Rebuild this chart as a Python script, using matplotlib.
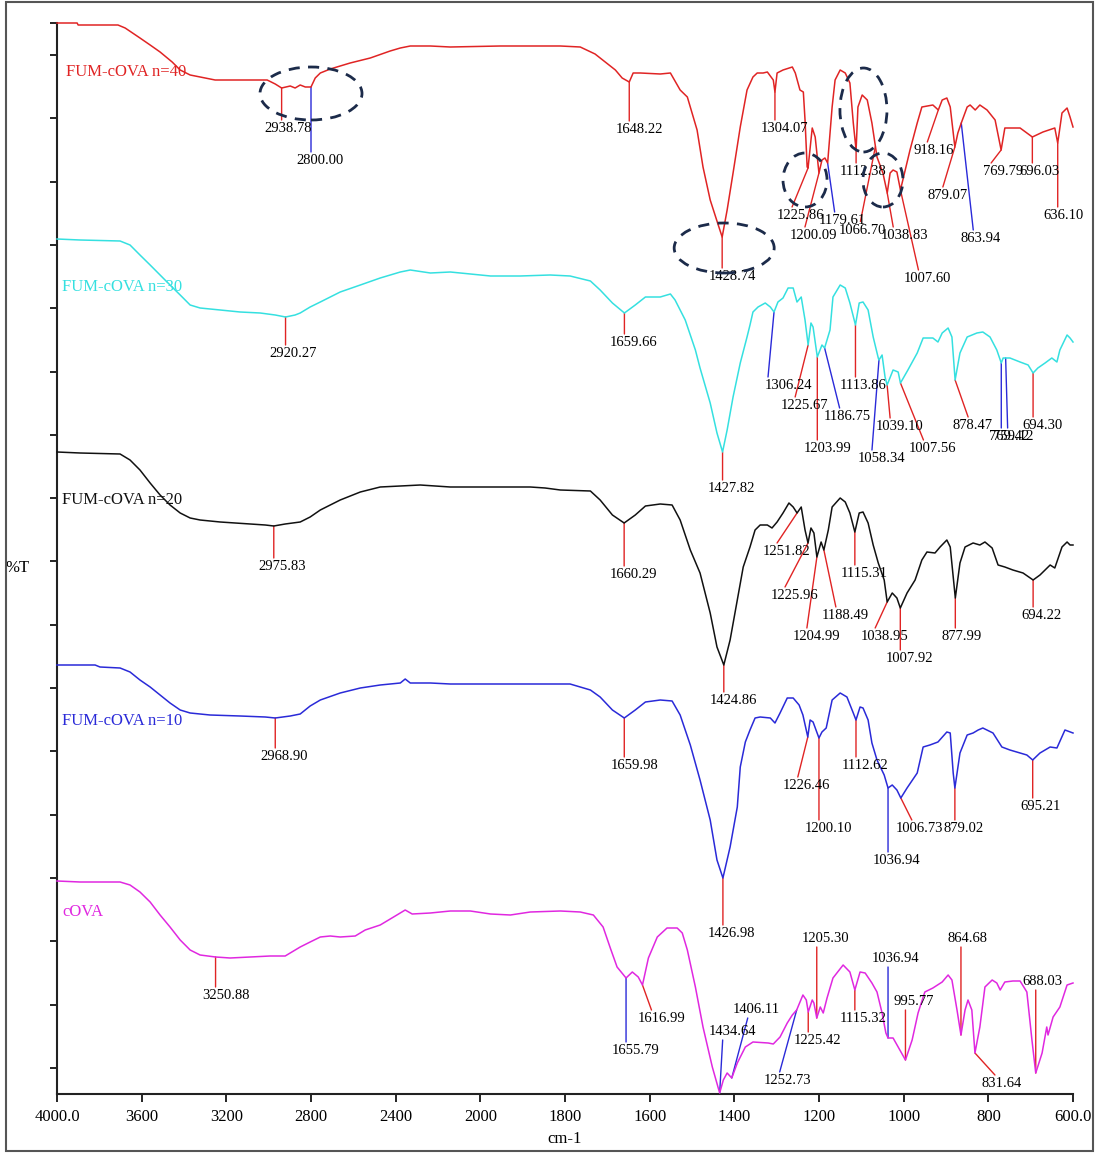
import numpy as np
import matplotlib
matplotlib.use('Agg')
import matplotlib.pyplot as plt
from matplotlib.patches import Ellipse, Rectangle
from matplotlib.transforms import IdentityTransform

plt.rcParams['font.family'] = ['Liberation Serif', 'DejaVu Serif']

RED = '#e02424'
BLUE = '#2a2ad8'
CYAN = '#35e0e0'
MAGENTA = '#e028e0'
NAVY = '#1c2b4a'

# ---- FTIR traces: wavenumber (cm-1) and stacked %T ----
wn40 = [4000, 3905, 3900, 3712, 3678, 3608, 3560, 3513, 3456, 3418,
        3371, 3300, 3253, 3007, 2969, 2938.78, 2898, 2875, 2851, 2827,
        2800, 2780, 2756, 2709, 2615, 2520, 2426, 2378, 2331, 2236,
        2142, 1953, 1858, 1811, 1764, 1729, 1717, 1681, 1665, 1648.22,
        1639, 1622, 1575, 1551, 1528, 1511, 1488, 1474, 1457, 1438,
        1428.74, 1417, 1403, 1386, 1370, 1356, 1346, 1332, 1322, 1308,
        1304.07, 1299, 1285, 1263, 1256, 1245, 1237, 1233, 1228, 1225.86,
        1216, 1209, 1200.09, 1193, 1186, 1179.61, 1169, 1162, 1150, 1138,
        1127, 1119, 1112.38, 1108, 1098, 1086, 1075, 1063, 1056, 1049,
        1038.83, 1032, 1025, 1016, 1007.60, 985, 968, 957, 931, 918.16,
        909, 898, 890, 879.07, 872, 863.94, 850, 843, 831, 820,
        803, 784, 769.79, 761, 725, 696.03, 671, 643, 636.10, 626,
        614, 607, 600]
t40 = [107.1, 107.1, 106.9, 106.9, 106.6, 105.6, 104.9, 104.2, 103.2, 102.4,
       101.9, 101.6, 101.4, 101.4, 101.0, 100.6, 100.8, 100.6, 100.9, 100.7,
       100.7, 101.6, 102.1, 102.5, 103.1, 103.6, 104.3, 104.6, 104.8, 104.8,
       104.7, 104.8, 104.8, 104.8, 104.7, 104.0, 103.6, 102.4, 101.6, 101.2,
       102.1, 102.1, 102.0, 102.1, 100.4, 99.7, 96.4, 92.7, 89.4, 86.9,
       85.7, 88.4, 92.1, 96.7, 100.4, 101.7, 102.1, 102.1, 102.2, 101.4,
       100.2, 102.1, 102.4, 102.7, 102.1, 100.4, 100.2, 97.4, 92.7, 92.6,
       96.6, 95.7, 92.1, 93.4, 93.6, 93.1, 98.7, 101.4, 102.4, 102.1,
       101.1, 97.1, 94.4, 98.7, 99.9, 99.4, 97.1, 93.7, 92.9, 92.1,
       90.1, 92.1, 92.4, 92.2, 90.4, 94.4, 97.1, 98.7, 98.9, 98.4,
       99.4, 99.6, 98.7, 94.7, 96.1, 97.1, 98.7, 98.9, 98.4, 98.9,
       98.4, 97.4, 94.4, 96.6, 96.6, 95.7, 96.2, 96.6, 95.1, 98.1,
       98.6, 97.7, 96.7]

wn30 = [4000, 3891, 3702, 3655, 3608, 3560, 3513, 3466, 3418, 3371,
        3324, 3229, 3135, 3040, 2969, 2920.27, 2875, 2851, 2804, 2756,
        2662, 2567, 2473, 2378, 2331, 2236, 2142, 2047, 1976, 1906,
        1835, 1788, 1740, 1717, 1688, 1659.66, 1634, 1610, 1575, 1551,
        1540, 1516, 1492, 1481, 1457, 1441, 1427.82, 1417, 1403, 1386,
        1370, 1363, 1356, 1344, 1327, 1315, 1306.24, 1297, 1285, 1273,
        1261, 1252, 1242, 1233, 1225.67, 1219, 1214, 1203.99, 1193, 1186.75,
        1174, 1167, 1150, 1138, 1127, 1113.86, 1105, 1096, 1084, 1072,
        1060, 1058.34, 1051, 1044, 1039.10, 1025, 1013, 1007.56, 990, 968,
        954, 931, 919, 909, 895, 886, 878.47, 867, 850, 827,
        813, 796, 780, 769.42, 765, 749, 725, 706, 694.30, 683,
        666, 650, 638, 631, 614, 607, 600]
t30 = [85.5, 85.4, 85.3, 84.9, 83.9, 82.9, 81.9, 80.9, 79.9, 78.9,
       78.6, 78.4, 78.2, 78.1, 77.9, 77.7, 77.9, 78.1, 78.7, 79.2,
       80.2, 80.9, 81.6, 82.2, 82.4, 82.1, 82.2, 82.0, 81.8, 81.8,
       81.9, 81.8, 81.3, 80.4, 79.1, 78.1, 78.9, 79.7, 79.7, 80.0,
       79.4, 77.4, 74.4, 72.6, 69.1, 66.1, 64.2, 66.4, 69.7, 73.1,
       75.7, 76.9, 78.2, 78.7, 79.1, 78.7, 78.2, 79.2, 79.6, 80.6,
       80.6, 79.2, 79.7, 77.4, 74.9, 77.1, 76.7, 73.7, 74.9, 74.6,
       76.4, 79.7, 80.9, 80.6, 79.1, 76.9, 79.1, 79.2, 78.4, 75.7,
       73.6, 73.4, 73.9, 71.7, 70.9, 72.4, 72.2, 71.1, 72.4, 74.1,
       75.6, 75.6, 75.2, 76.1, 76.6, 75.7, 71.4, 74.1, 75.7, 76.1,
       76.2, 75.7, 74.4, 73.1, 73.6, 73.6, 73.2, 72.9, 72.1, 72.6,
       73.1, 73.6, 73.2, 74.4, 75.9, 75.6, 75.2]

wn20 = [4000, 3891, 3702, 3655, 3608, 3560, 3513, 3466, 3418, 3371,
        3324, 3229, 3087, 3016, 2975.83, 2922, 2851, 2804, 2756, 2662,
        2567, 2473, 2378, 2284, 2142, 2000, 1929, 1882, 1847, 1811,
        1740, 1717, 1688, 1660.29, 1634, 1610, 1575, 1547, 1528, 1504,
        1481, 1457, 1441, 1424.86, 1410, 1393, 1379, 1363, 1351, 1339,
        1322, 1311, 1299, 1285, 1271, 1261, 1251.82, 1242, 1233, 1225.96,
        1219, 1212, 1204.99, 1195, 1188.49, 1178, 1169, 1150, 1138, 1127,
        1115.31, 1105, 1096, 1084, 1072, 1060, 1046, 1038.95, 1027, 1016,
        1007.92, 992, 973, 957, 945, 926, 914, 898, 890, 877.99,
        867, 855, 836, 820, 808, 791, 777, 761, 742, 718,
        694.22, 678, 654, 643, 626, 614, 607, 600]
t20 = [64.2, 64.1, 64.0, 63.4, 62.4, 61.1, 59.9, 58.9, 58.1, 57.6,
       57.4, 57.2, 57.0, 56.9, 56.8, 57.0, 57.2, 57.7, 58.4, 59.4,
       60.2, 60.7, 60.8, 60.9, 60.7, 60.7, 60.7, 60.7, 60.6, 60.4,
       60.3, 59.4, 57.9, 57.1, 57.9, 58.8, 59.0, 58.9, 57.4, 54.4,
       52.1, 48.1, 44.7, 42.9, 45.4, 49.4, 52.7, 54.7, 56.4, 56.9,
       56.9, 56.6, 57.2, 58.1, 59.1, 58.7, 58.1, 58.7, 56.4, 55.1,
       56.6, 56.1, 53.7, 55.2, 54.4, 56.4, 58.7, 59.6, 59.2, 58.1,
       56.2, 58.1, 58.2, 57.1, 54.9, 53.1, 51.4, 49.2, 50.1, 49.6,
       48.6, 50.1, 51.4, 53.4, 54.2, 54.1, 54.7, 55.4, 54.7, 49.6,
       53.1, 54.7, 55.1, 54.9, 55.2, 54.6, 52.9, 52.7, 52.4, 52.1,
       51.4, 51.9, 52.9, 52.6, 54.7, 55.2, 54.9, 54.9]

wn10 = [4000, 3820, 3797, 3702, 3655, 3608, 3560, 3513, 3466, 3418,
        3371, 3277, 3135, 3016, 2968.90, 2898, 2851, 2804, 2756, 2662,
        2567, 2473, 2378, 2355, 2331, 2236, 2142, 2000, 1906, 1835,
        1788, 1740, 1717, 1688, 1659.98, 1634, 1610, 1575, 1547, 1528,
        1504, 1481, 1457, 1441, 1426.98, 1410, 1393, 1386, 1374, 1363,
        1351, 1339, 1315, 1304, 1292, 1275, 1261, 1247, 1238, 1226.46,
        1221, 1214, 1200.10, 1193, 1183, 1178, 1169, 1150, 1134, 1119,
        1112.62, 1103, 1096, 1084, 1075, 1063, 1046, 1036.94, 1027, 1016,
        1006.73, 992, 968, 954, 938, 919, 898, 890, 883, 879.02,
        867, 850, 836, 824, 813, 789, 768, 749, 725, 709,
        695.21, 678, 654, 638, 619, 600]
t10 = [42.9, 42.9, 42.7, 42.6, 42.2, 41.4, 40.7, 39.9, 39.1, 38.4,
       38.1, 37.9, 37.8, 37.7, 37.6, 37.8, 38.0, 38.8, 39.4, 40.1,
       40.6, 40.9, 41.1, 41.5, 41.1, 41.1, 41.0, 41.0, 41.0, 41.0,
       41.0, 40.4, 39.7, 38.4, 37.6, 38.4, 39.2, 39.4, 39.3, 37.9,
       34.9, 31.4, 27.4, 23.4, 21.6, 24.7, 28.7, 32.7, 35.2, 36.4,
       37.6, 37.7, 37.6, 37.1, 38.1, 39.6, 39.6, 38.9, 37.9, 35.7,
       37.4, 37.2, 35.6, 36.2, 36.6, 37.6, 39.4, 40.1, 39.7, 38.1,
       37.4, 38.7, 38.6, 37.4, 35.1, 33.4, 31.9, 30.6, 30.9, 30.4,
       29.6, 30.6, 32.1, 34.7, 34.9, 35.2, 36.2, 36.1, 32.1, 30.6,
       34.1, 35.9, 36.1, 36.4, 36.6, 36.1, 34.7, 34.4, 34.1, 33.9,
       33.4, 34.1, 34.7, 34.6, 36.4, 36.1]

wn_cova = [4000, 3891, 3702, 3655, 3608, 3560, 3513, 3466, 3418, 3371,
           3324, 3250.88, 3182, 3087, 2993, 2922, 2851, 2804, 2756, 2709,
           2662, 2591, 2544, 2473, 2402, 2355, 2322, 2236, 2142, 2047,
           1976, 1929, 1882, 1811, 1764, 1733, 1710, 1693, 1677, 1655.79,
           1641, 1627, 1616.99, 1603, 1582, 1559, 1535, 1523, 1511, 1492,
           1474, 1452, 1434.64, 1426, 1417, 1406.11, 1393, 1374, 1356, 1320,
           1308, 1292, 1275, 1263, 1252.73, 1238, 1230, 1225.42, 1216, 1212,
           1205.30, 1197, 1190, 1181, 1167, 1143, 1127, 1115.32, 1103, 1091,
           1075, 1063, 1051, 1042, 1036.94, 1025, 1013, 995.77, 980, 966,
           950, 931, 909, 895, 886, 874, 864.68, 855, 848, 839,
           831.64, 820, 808, 791, 780, 772, 761, 742, 725, 709,
           697, 688.03, 673, 662, 659, 647, 631, 614, 600]
t_cova = [21.3, 21.2, 21.2, 20.9, 20.2, 19.2, 17.9, 16.7, 15.4, 14.4,
          13.9, 13.7, 13.6, 13.7, 13.8, 13.8, 14.7, 15.2, 15.7, 15.8,
          15.7, 15.8, 16.4, 16.9, 17.8, 18.4, 18.0, 18.1, 18.3, 18.3,
          18.0, 17.9, 18.2, 18.3, 18.2, 17.9, 16.7, 14.6, 12.7, 11.6,
          12.2, 11.7, 10.9, 13.6, 15.7, 16.6, 16.6, 16.1, 14.4, 10.7,
          6.7, 2.7, 0.1, 1.4, 2.1, 1.6, 3.1, 4.7, 5.2, 5.1,
          5.0, 5.7, 7.1, 7.9, 8.4, 9.9, 9.4, 8.2, 9.4, 9.1,
          7.6, 8.7, 8.1, 9.6, 11.6, 12.9, 12.2, 10.4, 12.2, 12.1,
          11.1, 10.2, 8.1, 6.1, 5.6, 5.6, 4.7, 3.4, 5.4, 8.1,
          10.2, 10.6, 11.2, 11.9, 11.4, 8.4, 5.9, 8.4, 9.4, 8.4,
          4.1, 6.7, 10.7, 11.4, 11.1, 10.4, 11.2, 11.3, 11.3, 10.2,
          5.4, 2.1, 4.1, 6.7, 5.9, 7.7, 8.7, 10.9, 11.1]

# ---- picked peaks ----
peaks40 = ['2938.78', '2800.00', '1648.22', '1428.74', '1304.07', '1225.86',
           '1200.09', '1179.61', '1112.38', '1066.70', '1038.83', '1007.60',
           '918.16', '879.07', '863.94', '769.79', '696.03', '636.10']
peaks30 = ['2920.27', '1659.66', '1427.82', '1306.24', '1225.67', '1203.99',
           '1186.75', '1113.86', '1058.34', '1039.10', '1007.56', '878.47',
           '769.42', '759.12', '694.30']
peaks20 = ['2975.83', '1660.29', '1424.86', '1251.82', '1225.96', '1204.99',
           '1188.49', '1115.31', '1038.95', '1007.92', '877.99', '694.22']
peaks10 = ['2968.90', '1659.98', '1426.98', '1226.46', '1200.10', '1112.62',
           '1036.94', '1006.73', '879.02', '695.21']
peaks_cova = ['3250.88', '1655.79', '1616.99', '1434.64', '1406.11', '1252.73',
              '1225.42', '1205.30', '1115.32', '1036.94', '995.77', '864.68',
              '831.64', '688.03']

# leader layout per peak: (dx px, drop px, text dx px, colour)
lay40 = [(0, 32, 7, 'r'), (0, 65, 9, 'b'), (0, 39, 10, 'r'), (0, 31, 10, 'r'),
         (0, 28, 10, 'r'), (-16, 39, 8, 'r'), (-14, 54, 9, 'r'), (7, 49, 8, 'b'),
         (0, 13, 7, 'r'), (-15, 75, 2, 'r'), (6, 34, 11, 'r'), (18, 80, 9, 'r'),
         (-11, 32, 6, 'r'), (-12, 40, 5, 'r'), (12, 107, 7, 'b'), (-10, 13, 12, 'r'),
         (0, 26, 7, 'r'), (0, 64, 6, 'r')]
lay30 = [(0, 28, 8, 'r'), (0, 21, 9, 'r'), (0, 28, 9, 'r'), (-6, 65, 20, 'b'),
         (-13, 52, 9, 'r'), (0, 83, 10, 'r'), (15, 60, 8, 'b'), (0, 52, 8, 'r'),
         (-7, 90, 10, 'b'), (3, 33, 9, 'r'), (23, 57, 9, 'r'), (13, 37, 4, 'r'),
         (0, 65, 8, 'b'), (2, 70, 6, 'b'), (0, 44, 9, 'r')]
lay20 = [(0, 32, 8, 'r'), (0, 43, 9, 'r'), (0, 27, 10, 'r'), (-20, 30, 9, 'r'),
         (-23, 44, 10, 'r'), (-10, 71, 10, 'r'), (12, 57, 9, 'r'), (0, 33, 9, 'r'),
         (-12, 26, 9, 'r'), (0, 42, 9, 'r'), (0, 30, 6, 'r'), (0, 27, 8, 'r')]
lay10 = [(0, 30, 9, 'r'), (0, 39, 10, 'r'), (0, 47, 9, 'r'), (-10, 40, 9, 'r'),
         (0, 82, 10, 'r'), (0, 37, 9, 'r'), (0, 64, 9, 'b'), (11, 22, 8, 'r'),
         (0, 32, 9, 'r'), (0, 38, 8, 'r')]
lay_cova = [(0, 30, 10, 'r'), (0, 64, 10, 'b'), (9, 25, 10, 'r'), (3, -53, 10, 'b'),
            (16, -60, 9, 'b'), (-17, 62, 8, 'b'), (0, 20, 9, 'r'), (0, -71, 9, 'r'),
            (0, 20, 8, 'r'), (0, -71, 8, 'b'), (0, -50, 8, 'r'), (0, -88, 7, 'r'),
            (20, 22, 7, 'r'), (0, -83, 7, 'r')]

series = [
    ('FUM-cOVA n=40', RED, wn40, t40, peaks40, lay40, (3957, 102.2)),
    ('FUM-cOVA n=30', CYAN, wn30, t30, peaks30, lay30, (3976, 80.7)),
    ('FUM-cOVA n=20', '#111111', wn20, t20, peaks20, lay20, (3976, 59.4)),
    ('FUM-cOVA n=10', BLUE, wn10, t10, peaks10, lay10, (3976, 37.3)),
    ('cOVA', MAGENTA, wn_cova, t_cova, peaks_cova, lay_cova, (3976, 18.2)),
]


# wavenumber axis is compressed 2:1 above 2000 cm-1
def fwd(x):
    x = np.asarray(x, dtype=float)
    return np.where(x > 2000, 2000 + (x - 2000) / 2.0, x)


def inv(t):
    t = np.asarray(t, dtype=float)
    return np.where(t > 2000, 2000 + (t - 2000) * 2.0, t)


fig = plt.figure(figsize=(10.95, 11.53), dpi=100)
ax = fig.add_axes([57 / 1095, 59 / 1153, 1016 / 1095, 1071 / 1153])
ax.set_xscale('function', functions=(fwd, inv))
ax.set_xlim(4000, 600)
ax.set_ylim(0, 107.1)

for name, col, wn, t, peaks, lay, pos in series:
    ax.plot(wn, t, color=col, lw=1.1, clip_on=False, zorder=3)
    ax.text(pos[0], pos[1], name, color=col, fontsize=12, ha='left', va='center')
    xs = np.array(wn)[::-1]
    ys = np.array(t)[::-1]
    for lab, (dx, drop, tdx, c) in zip(peaks, lay):
        x = float(lab)
        y = np.interp(x, xs, ys)
        lc = RED if c == 'r' else BLUE
        ax.annotate('', xy=(x, y), xytext=(dx, -drop), textcoords='offset pixels',
                    arrowprops=dict(arrowstyle='-', color=lc, lw=1.0,
                                    shrinkA=0, shrinkB=0), zorder=2)
        if drop > 0:
            ax.annotate(lab, xy=(x, y), xytext=(dx + tdx, -drop - 2),
                        textcoords='offset pixels', ha='center', va='top',
                        fontsize=10.5, zorder=4)
        else:
            ax.annotate(lab, xy=(x, y), xytext=(dx + tdx, -drop + 2),
                        textcoords='offset pixels', ha='center', va='bottom',
                        fontsize=10.5, zorder=4)

# dashed rings around the n=40 bands of interest
rings = [((2800, 100.05), 102, 53), ((1424, 84.6), 100, 50),
         ((1233, 91.4), 44, 54), ((1095, 98.4), 47, 84), ((1049, 91.4), 40, 54)]
for (cx, cy), w, h in rings:
    px, py = ax.transData.transform((cx, cy))
    ax.add_patch(Ellipse((px, py), w, h, transform=IdentityTransform(),
                         fill=False, ec=NAVY, lw=2.0, ls=(0, (4, 3)),
                         clip_on=False, zorder=5))

xt = [4000, 3600, 3200, 2800, 2400, 2000, 1800, 1600, 1400, 1200, 1000, 800, 600]
ax.set_xticks(xt)
ax.set_xticklabels(['4000.0'] + [str(v) for v in xt[1:-1]] + ['600.0'])
ax.set_yticks([107.1] + list(103.9 - 6.33 * np.arange(17)))
ax.set_yticklabels([])
ax.tick_params(axis='x', direction='out', length=6, width=1.2, labelsize=12, pad=5)
ax.tick_params(axis='y', direction='out', length=5, width=1.2)
ax.minorticks_off()
for s in ['top', 'right']:
    ax.spines[s].set_visible(False)
for s in ['left', 'bottom']:
    ax.spines[s].set_linewidth(1.5)
    ax.spines[s].set_color('#222222')

ax.set_xlabel('cm-1', fontsize=12, labelpad=4)
ax.set_ylabel('%T', fontsize=12, rotation=0, va='center', ha='center')
ax.yaxis.set_label_coords(-0.039, 0.491)

fig.patches.append(Rectangle((6 / 1095, 2 / 1153), 1087 / 1095, 1149 / 1153,
                             transform=fig.transFigure, fill=False,
                             ec='#555555', lw=1.5))

fig.savefig('out.png', dpi=100)
